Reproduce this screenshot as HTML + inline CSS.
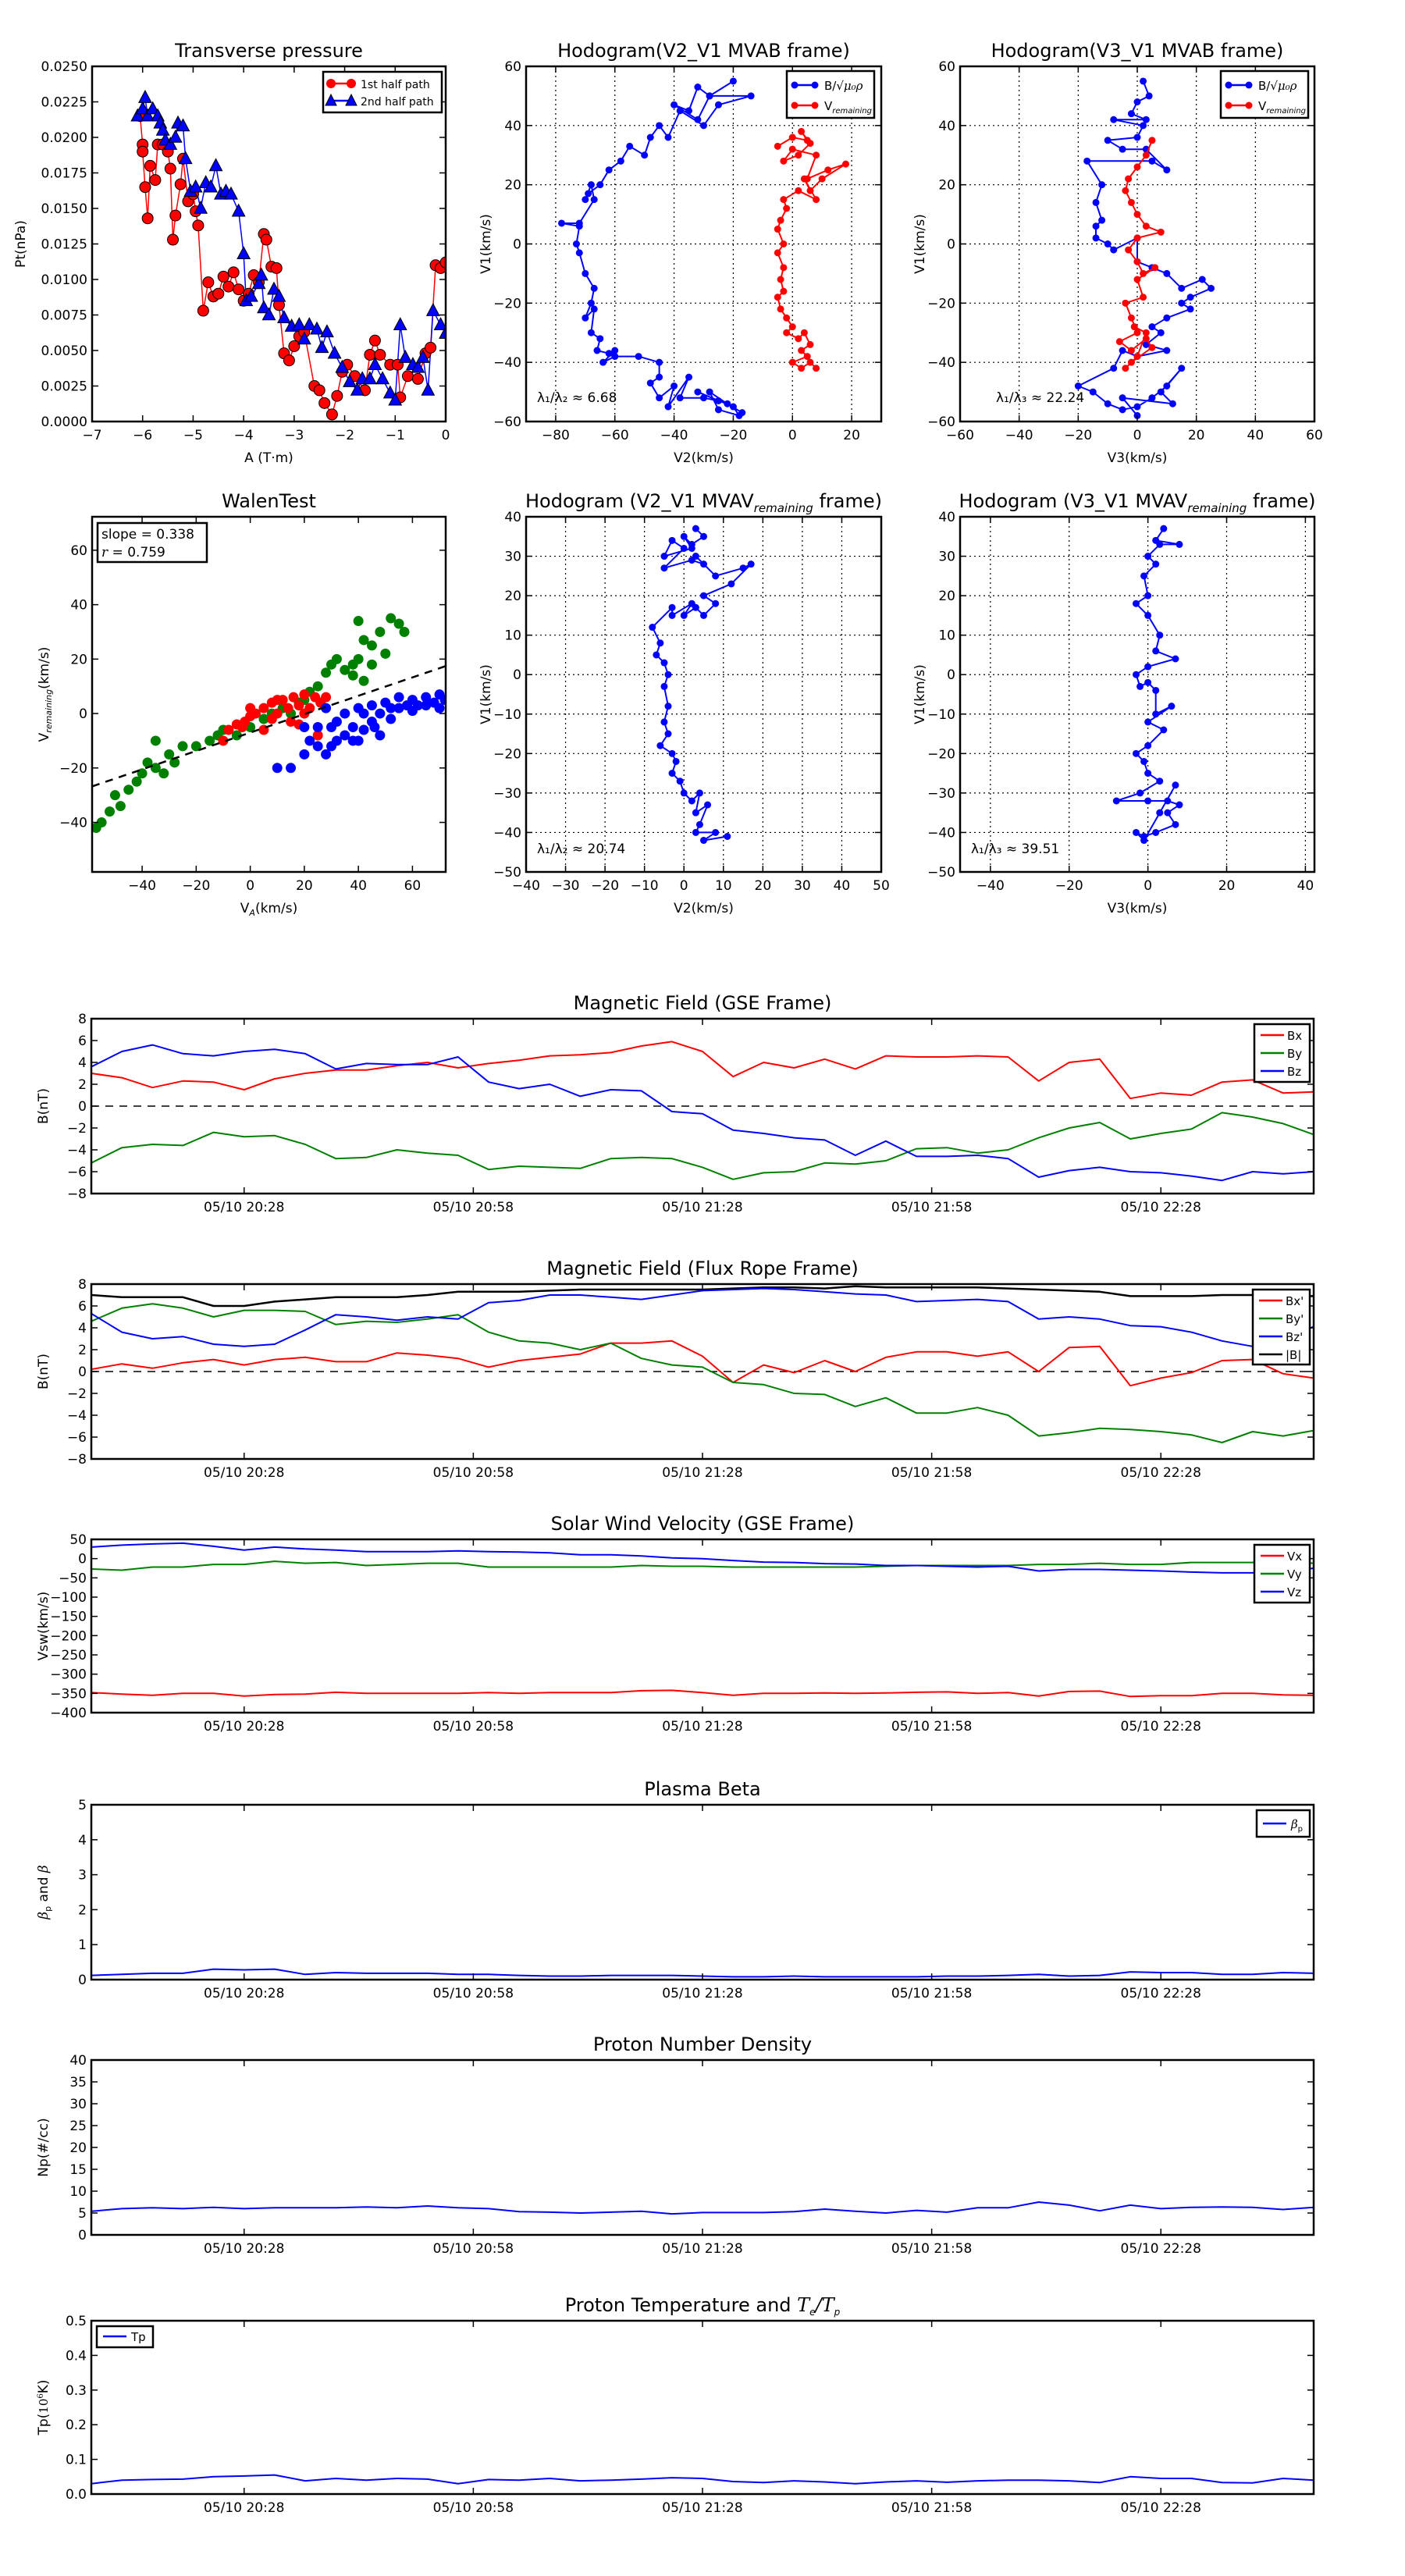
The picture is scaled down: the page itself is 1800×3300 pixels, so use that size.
<!DOCTYPE html>
<html><head><meta charset="utf-8"><style>
html,body{margin:0;padding:0;background:#fff}
svg{display:block;font-family:"DejaVu Sans","Liberation Sans",sans-serif}
</style></head><body>
<svg id="fig" xmlns="http://www.w3.org/2000/svg" width="1800" height="3300" viewBox="0 0 1800 3300"></svg>
<script>
// ---------- DATA ----------
const ptA1=[-6.05,-6.0,-6.0,-5.95,-5.9,-5.85,-5.75,-5.7,-5.6,-5.5,-5.45,-5.4,-5.35,-5.25,-5.2,-5.1,-5.0,-4.95,-4.9,-4.8,-4.7,-4.6,-4.5,-4.4,-4.3,-4.2,-4.1,-4.0,-3.9,-3.8,-3.7,-3.6,-3.55,-3.45,-3.35,-3.3,-3.2,-3.1,-3.0,-2.9,-2.8,-2.6,-2.5,-2.4,-2.25,-2.15,-2.05,-1.95,-1.8,-1.6,-1.5,-1.4,-1.3,-1.1,-0.95,-0.9,-0.75,-0.55,-0.4,-0.3,-0.2,-0.1,0];
const ptP1=[0.0215,0.0195,0.019,0.0165,0.0143,0.018,0.017,0.0195,0.0195,0.019,0.0178,0.0128,0.0145,0.0167,0.0185,0.0155,0.016,0.0148,0.0138,0.0078,0.0098,0.0088,0.009,0.0102,0.0095,0.0105,0.0093,0.0085,0.009,0.0103,0.0098,0.0132,0.0128,0.0109,0.0108,0.0082,0.0048,0.0043,0.0053,0.006,0.0063,0.0025,0.0022,0.0013,0.0005,0.0018,0.0035,0.004,0.0032,0.0022,0.0047,0.0057,0.0047,0.004,0.004,0.0017,0.0032,0.003,0.0048,0.0052,0.011,0.0108,0.0112];
const ptA2=[-6.1,-6.0,-5.95,-5.9,-5.8,-5.7,-5.65,-5.6,-5.55,-5.45,-5.35,-5.3,-5.2,-5.15,-5.05,-4.95,-4.85,-4.75,-4.65,-4.55,-4.45,-4.35,-4.25,-4.1,-4.0,-3.95,-3.85,-3.7,-3.65,-3.6,-3.5,-3.4,-3.3,-3.2,-3.05,-2.9,-2.8,-2.7,-2.55,-2.45,-2.35,-2.2,-2.05,-1.9,-1.75,-1.65,-1.5,-1.4,-1.25,-1.1,-1.0,-0.9,-0.8,-0.65,-0.55,-0.45,-0.35,-0.25,-0.1,0];
const ptP2=[0.0215,0.022,0.0228,0.0215,0.022,0.0215,0.021,0.0205,0.0198,0.0195,0.02,0.021,0.0208,0.0185,0.0162,0.0165,0.015,0.0168,0.0165,0.018,0.016,0.0162,0.016,0.0148,0.0118,0.0085,0.0088,0.0097,0.0103,0.008,0.0075,0.0093,0.0088,0.0073,0.0067,0.0068,0.0058,0.0068,0.0065,0.0052,0.0063,0.0048,0.0038,0.0028,0.0022,0.003,0.003,0.004,0.003,0.002,0.0015,0.0068,0.0045,0.004,0.0038,0.0045,0.0022,0.0078,0.0068,0.0062];

const h1BV2=[-20,-28,-32,-35,-40,-32,-28,-14,-25,-30,-38,-42,-45,-48,-50,-55,-58,-62,-65,-69,-70,-68,-67,-72,-78,-72,-73,-72,-70,-67,-68,-70,-67,-68,-65,-66,-62,-60,-64,-60,-52,-45,-45,-48,-45,-40,-42,-35,-38,-30,-25,-32,-20,-18,-25,-28,-22,-17];
const h1BV1=[55,50,53,45,47,42,50,50,47,40,45,36,40,36,30,33,28,25,20,17,15,20,15,7,7,6,0,-3,-10,-15,-20,-25,-22,-30,-32,-36,-37,-36,-40,-38,-38,-40,-45,-47,-52,-48,-55,-45,-52,-52,-53,-50,-55,-58,-56,-50,-54,-57];
const h1VV2=[-5,0,5,3,6,2,-3,0,8,5,12,18,10,6,4,8,2,-3,-2,-4,-5,-3,-5,-3,-4,-3,-5,-4,-2,0,-2,2,4,6,3,5,0,3,6,8];
const h1VV1=[33,36,35,38,34,30,28,32,30,22,25,27,22,18,22,15,18,15,12,8,5,0,-3,-8,-12,-16,-18,-22,-25,-28,-30,-32,-30,-34,-36,-38,-40,-42,-40,-42];
const h2BV3=[2,4,0,-2,3,-8,2,0,-10,-5,3,10,5,-17,-12,-14,-12,-14,-14,-10,-8,0,0,5,10,15,22,25,18,15,18,10,5,8,3,10,0,-5,-8,-20,-15,-10,-5,0,5,10,15,8,12,-5,0];
const h2BV1=[55,50,48,44,42,42,40,36,35,32,32,25,28,28,20,14,8,6,2,0,-2,2,-6,-8,-10,-15,-12,-15,-18,-20,-22,-25,-28,-30,-34,-36,-38,-36,-42,-48,-50,-54,-56,-55,-52,-48,-42,-50,-54,-52,-58];
const h2VV3=[5,3,0,-3,-4,-2,0,3,8,0,-3,0,2,6,0,2,-4,-2,0,-6,-2,3,5,-2,-4,0,3,-1];
const h2VV1=[35,30,26,22,18,14,10,6,4,2,-2,-6,-10,-8,-12,-18,-20,-25,-30,-33,-36,-32,-35,-40,-42,-38,-30,-28];

const walenGX=[-57,-55,-52,-50,-48,-45,-42,-40,-38,-35,-35,-32,-30,-28,-25,-20,-15,-12,-10,-5,0,5,8,12,15,18,20,22,25,28,30,32,35,38,40,42,40,42,45,48,50,52,55,57,45,38];
const walenGY=[-42,-40,-36,-30,-34,-28,-25,-22,-18,-20,-10,-22,-15,-18,-12,-12,-10,-8,-6,-8,-5,-2,0,2,0,4,5,8,10,15,18,20,16,14,20,12,34,27,25,30,22,35,33,30,18,18];
const walenRX=[-10,-8,-5,-2,0,2,5,8,10,12,14,16,18,20,22,24,26,28,25,15,5,0,10,20,-3,8,18];
const walenRY=[-10,-6,-4,-3,-1,0,2,4,0,5,2,6,3,7,2,6,4,6,-8,-3,-6,2,5,0,-5,-2,-4];
const walenBX=[10,15,20,22,25,28,30,30,32,35,35,38,40,40,42,45,45,48,50,52,55,58,60,62,65,68,70,72,28,32,48,55,60,65,70,20,25,38,42,46,52];
const walenBY=[-20,-20,-15,-10,-5,-15,-12,-5,-3,-8,0,-5,2,-10,-6,-3,3,0,4,2,6,3,5,3,6,4,7,5,2,-10,-8,2,1,3,2,-5,-12,-10,0,-5,-2];
const walenSlope=0.338, walenIntercept=-7.0;

const h3V2=[3,5,2,0,2,-5,-3,0,-5,2,5,3,8,15,17,12,5,8,5,3,0,2,-3,-3,-8,-6,-7,-5,-4,-5,-4,-5,-4,-6,-3,-2,-3,-1,0,2,4,3,6,4,3,8,5,11];
const h3V1=[37,35,33,35,32,30,34,32,27,29,28,30,25,27,28,23,20,18,15,17,15,18,15,17,12,8,5,3,0,-3,-8,-12,-15,-18,-20,-22,-25,-27,-30,-32,-30,-35,-33,-38,-40,-40,-42,-41];
const h4V3=[4,2,8,3,0,2,-1,0,-3,0,3,2,7,0,-3,-2,0,2,2,6,0,4,0,-3,-1,0,3,-2,-8,0,5,8,5,7,2,-1,-3,-1,3,7];
const h4V1=[37,34,33,33,30,28,25,20,18,15,10,6,4,2,0,-3,-2,-4,-10,-8,-12,-14,-18,-20,-22,-25,-27,-30,-32,-32,-32,-33,-35,-38,-40,-41,-40,-42,-35,-28];

// time series: samples every 4 minutes starting 20:08 (41 samples)
const tsStep=4;
const timeTicks=[20,50,80,110,140];
const timeTickLabels=["05/10 20:28","05/10 20:58","05/10 21:28","05/10 21:58","05/10 22:28"];
const gseBx=[3.0,2.6,1.7,2.3,2.2,1.5,2.5,3.0,3.3,3.3,3.7,4.0,3.5,3.9,4.2,4.6,4.7,4.9,5.5,5.9,5.0,2.7,4.0,3.5,4.3,3.4,4.6,4.5,4.5,4.6,4.5,2.3,4.0,4.3,0.7,1.2,1.0,2.2,2.4,1.2,1.3];
const gseBy=[-5.2,-3.8,-3.5,-3.6,-2.4,-2.8,-2.7,-3.5,-4.8,-4.7,-4.0,-4.3,-4.5,-5.8,-5.5,-5.6,-5.7,-4.8,-4.7,-4.8,-5.6,-6.7,-6.1,-6.0,-5.2,-5.3,-5.0,-3.9,-3.8,-4.3,-4.0,-2.9,-2.0,-1.5,-3.0,-2.5,-2.1,-0.6,-1.0,-1.6,-2.6];
const gseBz=[3.6,5.0,5.6,4.8,4.6,5.0,5.2,4.8,3.4,3.9,3.8,3.8,4.5,2.2,1.6,2.0,0.9,1.5,1.4,-0.5,-0.7,-2.2,-2.5,-2.9,-3.1,-4.5,-3.2,-4.6,-4.6,-4.5,-4.8,-6.5,-5.9,-5.6,-6.0,-6.1,-6.4,-6.8,-6.0,-6.2,-6.0];
const frBx=[0.2,0.7,0.3,0.8,1.1,0.6,1.1,1.3,0.9,0.9,1.7,1.5,1.2,0.4,1.0,1.3,1.6,2.6,2.6,2.8,1.4,-1.0,0.6,-0.1,1.0,0.0,1.3,1.8,1.8,1.4,1.8,0.0,2.2,2.3,-1.3,-0.6,-0.1,1.0,1.1,-0.2,-0.6];
const frBy=[4.6,5.8,6.2,5.8,5.0,5.6,5.6,5.5,4.3,4.6,4.5,4.8,5.2,3.6,2.8,2.6,2.0,2.6,1.2,0.6,0.4,-1.0,-1.2,-2.0,-2.1,-3.2,-2.4,-3.8,-3.8,-3.3,-4.0,-5.9,-5.6,-5.2,-5.3,-5.5,-5.8,-6.5,-5.5,-5.9,-5.4];
const frBz=[5.3,3.6,3.0,3.2,2.5,2.3,2.5,3.8,5.2,5.0,4.7,5.0,4.8,6.3,6.5,7.0,7.0,6.8,6.6,7.0,7.4,7.5,7.6,7.5,7.3,7.1,7.0,6.4,6.5,6.6,6.4,4.8,5.0,4.8,4.2,4.1,3.6,2.8,2.3,3.0,4.1];
const frBt=[7.0,6.8,6.8,6.8,6.0,6.0,6.4,6.6,6.8,6.8,6.8,7.0,7.3,7.3,7.3,7.4,7.5,7.5,7.5,7.5,7.5,7.6,7.7,7.7,7.6,7.8,7.7,7.7,7.7,7.7,7.6,7.5,7.4,7.3,6.9,6.9,6.9,7.0,7.0,6.9,6.9];
const swVx=[-348,-352,-355,-350,-350,-357,-353,-352,-347,-350,-350,-350,-350,-348,-350,-348,-348,-348,-343,-342,-348,-355,-350,-350,-349,-350,-349,-347,-346,-350,-348,-357,-345,-344,-358,-356,-356,-350,-350,-354,-355];
const swVy=[-27,-30,-22,-22,-15,-15,-7,-12,-10,-18,-15,-12,-12,-22,-22,-22,-22,-22,-18,-20,-20,-22,-22,-22,-22,-22,-20,-18,-18,-18,-18,-15,-15,-12,-15,-15,-10,-10,-10,-8,-12];
const swVz=[30,35,38,40,32,22,30,25,22,18,18,18,20,18,17,15,10,10,7,2,0,-5,-9,-10,-13,-14,-18,-18,-20,-22,-20,-32,-28,-28,-30,-32,-35,-37,-37,-35,-25];
const betaP=[0.12,0.15,0.18,0.18,0.3,0.28,0.3,0.15,0.2,0.18,0.18,0.18,0.15,0.15,0.12,0.1,0.1,0.12,0.12,0.12,0.1,0.08,0.08,0.1,0.08,0.08,0.08,0.08,0.1,0.1,0.12,0.15,0.1,0.12,0.22,0.2,0.2,0.15,0.15,0.2,0.18];
const densNp=[5.4,6.0,6.2,6.0,6.3,6.0,6.2,6.2,6.2,6.4,6.2,6.6,6.2,6.0,5.3,5.2,5.0,5.2,5.4,4.8,5.1,5.1,5.1,5.3,5.9,5.4,5.0,5.6,5.2,6.2,6.2,7.5,6.8,5.5,6.8,6.0,6.3,6.4,6.3,5.8,6.3];
const tempTp=[0.03,0.04,0.042,0.043,0.05,0.052,0.055,0.038,0.045,0.04,0.045,0.043,0.03,0.042,0.04,0.045,0.038,0.04,0.043,0.047,0.045,0.036,0.033,0.038,0.035,0.03,0.035,0.038,0.034,0.038,0.04,0.04,0.038,0.033,0.05,0.045,0.045,0.033,0.032,0.045,0.04];

// ---------- DRAWING ----------
const NS="http://www.w3.org/2000/svg";
const fig=document.getElementById('fig');
function mk(tag,attrs,parent){const e=document.createElementNS(NS,tag);for(const k in attrs)e.setAttribute(k,attrs[k]);(parent||fig).appendChild(e);return e;}
function txt(s,x,y,size,anchor,parent,extra){const t=mk('text',Object.assign({x:x,y:y,'font-size':size,'text-anchor':anchor||'middle',fill:'#000'},extra||{}),parent);t.textContent=s;return t;}

function makeAxes(c){
  const g=mk('g',{});
  
  
  const sx=v=>c.x+(v-c.xmin)/(c.xmax-c.xmin)*c.w;
  const sy=v=>c.y+c.h-(v-c.ymin)/(c.ymax-c.ymin)*c.h;
  mk('rect',{x:c.x,y:c.y,width:c.w,height:c.h,fill:'#fff'},g);
  const clipId='clip-'+c.name;
  const cp=mk('clipPath',{id:clipId},g);mk('rect',{x:c.x,y:c.y,width:c.w,height:c.h},cp);
  const grid=mk('g',{},g);
  const marks=mk('g',{'clip-path':'url(#'+clipId+')'},g);
  const frame=mk('g',{},g);
  c.xticks.forEach((v,i)=>{const X=sx(v);
    if(c.grid)mk('line',{x1:X,y1:c.y,x2:X,y2:c.y+c.h,stroke:'#000','stroke-width':1.2,'stroke-dasharray':'2,4'},grid);
    mk('line',{x1:X,y1:c.y+c.h,x2:X,y2:c.y+c.h-8,stroke:'#000','stroke-width':1.5},frame);
    mk('line',{x1:X,y1:c.y,x2:X,y2:c.y+8,stroke:'#000','stroke-width':1.5},frame);
    const t=txt(c.xlabels?c.xlabels[i]:fmt(v),X,c.y+c.h+23,17,'middle',frame);
    
    });
  c.yticks.forEach((v,i)=>{const Y=sy(v);
    if(c.grid)mk('line',{x1:c.x,y1:Y,x2:c.x+c.w,y2:Y,stroke:'#000','stroke-width':1.2,'stroke-dasharray':'2,4'},grid);
    mk('line',{x1:c.x,y1:Y,x2:c.x+8,y2:Y,stroke:'#000','stroke-width':1.5},frame);
    mk('line',{x1:c.x+c.w,y1:Y,x2:c.x+c.w-8,y2:Y,stroke:'#000','stroke-width':1.5},frame);
    const t=txt(c.ylabels?c.ylabels[i]:fmt(v),c.x-6,Y+6,17,'end',frame);
    
    });
  mk('rect',{x:c.x,y:c.y,width:c.w,height:c.h,fill:'none',stroke:'#000','stroke-width':2.5},frame);
  if(c.title){const t=txt('',c.x+c.w/2,c.y-12,24,'middle',frame);t.innerHTML=c.title;}
  if(c.xlabel){const t=txt('',c.x+c.w/2,c.y+c.h+c.xlabOff,17,'middle',frame);t.innerHTML=c.xlabel;}
  if(c.ylabel){const t=txt('',0,0,17,'middle',frame,{transform:'translate('+(c.x-c.ylabOff)+','+(c.y+c.h/2)+') rotate(-90)'});t.innerHTML=c.ylabel;}
  return {g:g,marks:marks,frame:frame,sx:sx,sy:sy,c:c};
}
function fmt(v){return (v<0?'\u2212':'')+Math.abs(v);}
function line(ax,xs,ys,color,w,name,dash){
  const p=xs.map((x,i)=>ax.sx(x).toFixed(1)+','+ax.sy(ys[i]).toFixed(1)).join(' ');
  const l=mk('polyline',{points:p,fill:'none',stroke:color,'stroke-width':w,'stroke-linejoin':'round'},ax.marks);
  if(dash)l.setAttribute('stroke-dasharray',dash);
  
  
  return l;
}
function dots(ax,xs,ys,color,r,name,stroke){
  const g=mk('g',{},ax.marks);
  
  
  xs.forEach((x,i)=>{mk('circle',{cx:ax.sx(x),cy:ax.sy(ys[i]),r:r,fill:color,stroke:stroke||'none','stroke-width':1},g);});
}
function tris(ax,xs,ys,color,s,name){
  const g=mk('g',{},ax.marks);
  
  
  xs.forEach((x,i)=>{const X=ax.sx(x),Y=ax.sy(ys[i]);
    mk('polygon',{points:(X)+','+(Y-s)+' '+(X-s*0.9)+','+(Y+s*0.7)+' '+(X+s*0.9)+','+(Y+s*0.7),fill:color,stroke:'#000','stroke-width':1},g);});
}
function legend(ax,x,y,w,h,items,name){
  const g=mk('g',{},ax.frame);
  
  
  mk('rect',{x:x,y:y,width:w,height:h,fill:'#fff',stroke:'#000','stroke-width':2.5},g);
  items.forEach((it,i)=>{const yy=y+it.dy;
    mk('line',{x1:x+8,y1:yy,x2:x+38,y2:yy,stroke:it.color,'stroke-width':it.lw||2.5},g);
    if(it.marker==='o'){mk('circle',{cx:x+10,cy:yy,r:it.r||6,fill:it.color,stroke:it.ms||'none'},g);mk('circle',{cx:x+36,cy:yy,r:it.r||6,fill:it.color,stroke:it.ms||'none'},g);}
    if(it.marker==='^'){[x+10,x+36].forEach(X=>mk('polygon',{points:X+','+(yy-8)+' '+(X-7)+','+(yy+6)+' '+(X+7)+','+(yy+6),fill:it.color,stroke:'#000'},g));}
    const t=txt('',x+(it.tx||48),yy+6,it.fs||17,'start',g);t.innerHTML=it.label;
    
    });
}
function range(a,b,s){const r=[];for(let v=a;v<=b+1e-9;v+=s)r.push(Math.round(v*1e6)/1e6);return r;}

const R1Y=85,R1H=455,R2Y=662,R2H=455,XL=52;
// ---------- Row 1 ----------
let ax=makeAxes({name:'transverse-pressure',x:118,y:R1Y,w:453,h:R1H,xmin:-7,xmax:0,ymin:0,ymax:0.025,
  xticks:range(-7,0,1),yticks:range(0,0.025,0.0025),ylabels:range(0,0.025,0.0025).map(v=>v.toFixed(4)),
  title:'Transverse pressure',xlabel:'A (T\u00b7m)',xlabOff:XL,ylabel:'Pt(nPa)',ylabOff:86});
line(ax,ptA1,ptP1,'#f00',1.5,'first-half-line');
line(ax,ptA2,ptP2,'#00f',1.5,'second-half-line');
dots(ax,ptA1,ptP1,'#f00',7,'first-half-markers','#000');
tris(ax,ptA2,ptP2,'#00f',9,'second-half-markers');
legend(ax,414,92,152,52,[{dy:15,color:'#f00',marker:'o',label:'1st half path',fs:14},{dy:37,color:'#00f',marker:'^',label:'2nd half path',fs:14}],'pt-legend');

ax=makeAxes({name:'hodogram-v2-v1-mvab',x:674,y:R1Y,w:455,h:R1H,xmin:-90,xmax:30,ymin:-60,ymax:60,grid:true,
  xticks:range(-80,20,20),yticks:range(-60,60,20),title:'Hodogram(V2_V1 MVAB frame)',xlabel:'V2(km/s)',xlabOff:XL,ylabel:'V1(km/s)',ylabOff:46});
line(ax,h1BV2,h1BV1,'#00f',2,'b-path');dots(ax,h1BV2,h1BV1,'#00f',4.5,'b-points');
line(ax,h1VV2,h1VV1,'#f00',2,'v-path');dots(ax,h1VV2,h1VV1,'#f00',4.5,'v-points');
legend(ax,1008,91,112,60,[{dy:18,color:'#00f',marker:'o',r:4.5,label:'B/<tspan font-family="DejaVu Serif" font-style="italic">\u221a\u03bc\u2080\u03c1</tspan>',fs:15},{dy:44,color:'#f00',marker:'o',r:4.5,label:'V<tspan font-size="10" font-style="italic" dy="4">remaining</tspan>',fs:15}],'hodogram1-legend');
txt('\u03bb\u2081/\u03bb\u2082 \u2248 6.68',688,515,17,'start',ax.frame);

ax=makeAxes({name:'hodogram-v3-v1-mvab',x:1230,y:R1Y,w:454,h:R1H,xmin:-60,xmax:60,ymin:-60,ymax:60,grid:true,
  xticks:range(-60,60,20),yticks:range(-60,60,20),title:'Hodogram(V3_V1 MVAB frame)',xlabel:'V3(km/s)',xlabOff:XL,ylabel:'V1(km/s)',ylabOff:46});
line(ax,h2BV3,h2BV1,'#00f',2,'b-path');dots(ax,h2BV3,h2BV1,'#00f',4.5,'b-points');
line(ax,h2VV3,h2VV1,'#f00',2,'v-path');dots(ax,h2VV3,h2VV1,'#f00',4.5,'v-points');
legend(ax,1564,91,112,60,[{dy:18,color:'#00f',marker:'o',r:4.5,label:'B/<tspan font-family="DejaVu Serif" font-style="italic">\u221a\u03bc\u2080\u03c1</tspan>',fs:15},{dy:44,color:'#f00',marker:'o',r:4.5,label:'V<tspan font-size="10" font-style="italic" dy="4">remaining</tspan>',fs:15}],'hodogram2-legend');
txt('\u03bb\u2081/\u03bb\u2083 \u2248 22.24',1276,515,17,'start',ax.frame);

// ---------- Row 2 ----------
ax=makeAxes({name:'walen-test',x:118,y:R2Y,w:453,h:R2H,xmin:-58.5,xmax:72.3,ymin:-58.2,ymax:72.3,
  xticks:range(-40,60,20),yticks:range(-40,60,20),title:'WalenTest',xlabel:'V<tspan font-size="11" font-style="italic" dy="4">A</tspan><tspan dy="-4">(km/s)</tspan>',xlabOff:XL,ylabel:'V<tspan font-size="11" font-style="italic" dy="4">remaining</tspan><tspan dy="-4">(km/s)</tspan>',ylabOff:56});
dots(ax,walenGX,walenGY,'#008000',6.5,'walen-green-points');
dots(ax,walenRX,walenRY,'#f00',6.5,'walen-red-points');
dots(ax,walenBX,walenBY,'#00f',6.5,'walen-blue-points');
line(ax,[-58.5,72.3],[walenSlope*-58.5+walenIntercept,walenSlope*72.3+walenIntercept],'#000',2.5,'walen-fit-line','10,8');
(function(){const g=mk('g',{},ax.frame);
mk('rect',{x:125,y:670,width:140,height:50,fill:'#fff',stroke:'#000','stroke-width':2.5},g);
txt('slope = 0.338',130,690,17,'start',g);const t=txt('',130,713,17,'start',g);t.innerHTML='<tspan font-style="italic" font-family="DejaVu Serif">r</tspan> = 0.759';})();

ax=makeAxes({name:'hodogram-v2-v1-mvav',x:674,y:R2Y,w:455,h:R2H,xmin:-40,xmax:50,ymin:-50,ymax:40,grid:true,
  xticks:range(-40,50,10),yticks:range(-50,40,10),title:'Hodogram (V2_V1 MVAV<tspan font-size="15" font-style="italic" dy="6">remaining</tspan><tspan dy="-6"> frame)</tspan>',xlabel:'V2(km/s)',xlabOff:XL,ylabel:'V1(km/s)',ylabOff:46});
line(ax,h3V2,h3V1,'#00f',2,'b-path');dots(ax,h3V2,h3V1,'#00f',4.5,'b-points');
txt('\u03bb\u2081/\u03bb\u2082 \u2248 20.74',688,1093,17,'start',ax.frame);

ax=makeAxes({name:'hodogram-v3-v1-mvav',x:1230,y:R2Y,w:454,h:R2H,xmin:-47.7,xmax:42.3,ymin:-50,ymax:40,grid:true,
  xticks:range(-40,40,20),yticks:range(-50,40,10),title:'Hodogram (V3_V1 MVAV<tspan font-size="15" font-style="italic" dy="6">remaining</tspan><tspan dy="-6"> frame)</tspan>',xlabel:'V3(km/s)',xlabOff:XL,ylabel:'V1(km/s)',ylabOff:46});
line(ax,h4V3,h4V1,'#00f',2,'b-path');dots(ax,h4V3,h4V1,'#00f',4.5,'b-points');
txt('\u03bb\u2081/\u03bb\u2083 \u2248 39.51',1244,1093,17,'start',ax.frame);

// ---------- Time series ----------
const T=gseBx.map((_,i)=>i*tsStep);
function tsAxes(name,top,h,ymin,ymax,yt,title,ylabel,ylabels){
  return makeAxes({name:name,x:117,y:top,w:1566,h:h,xmin:0,xmax:160,ymin:ymin,ymax:ymax,
    xticks:timeTicks,xlabels:timeTickLabels,yticks:yt,ylabels:ylabels,title:title,ylabel:ylabel,ylabOff:56});
}
ax=tsAxes('magnetic-field-gse',1305,224,-8,8,range(-8,8,2),'Magnetic Field (GSE Frame)','B(nT)');
line(ax,[0,160],[0,0],'#000',1.5,'zero-line','10,8');
line(ax,T,gseBx,'#f00',2,'bx-line');line(ax,T,gseBy,'#008000',2,'by-line');line(ax,T,gseBz,'#00f',2,'bz-line');
legend(ax,1607,1312,71,74,[{dy:14,color:'#f00',label:'Bx',tx:42,fs:15},{dy:37,color:'#008000',label:'By',tx:42,fs:15},{dy:60,color:'#00f',label:'Bz',tx:42,fs:15}],'gse-legend');

ax=tsAxes('magnetic-field-flux-rope',1645,224,-8,8,range(-8,8,2),'Magnetic Field (Flux Rope Frame)','B(nT)');
line(ax,[0,160],[0,0],'#000',1.5,'zero-line','10,8');
line(ax,T,frBt,'#000',2.5,'bt-line');line(ax,T,frBx,'#f00',2,'bx-prime-line');line(ax,T,frBy,'#008000',2,'by-prime-line');line(ax,T,frBz,'#00f',2,'bz-prime-line');
legend(ax,1605,1652,73,96,[{dy:14,color:'#f00',label:"Bx'",tx:42,fs:15},{dy:37,color:'#008000',label:"By'",tx:42,fs:15},{dy:60,color:'#00f',label:"Bz'",tx:42,fs:15},{dy:83,color:'#000',label:'|B|',tx:42,fs:15}],'flux-rope-legend');

ax=tsAxes('solar-wind-velocity',1972,222,-400,50,range(-400,50,50),'Solar Wind Velocity (GSE Frame)','Vsw(km/s)');
line(ax,T,swVx,'#f00',2,'vx-line');line(ax,T,swVy,'#008000',2,'vy-line');line(ax,T,swVz,'#00f',2,'vz-line');
legend(ax,1607,1979,71,74,[{dy:14,color:'#f00',label:'Vx',tx:42,fs:15},{dy:37,color:'#008000',label:'Vy',tx:42,fs:15},{dy:60,color:'#00f',label:'Vz',tx:42,fs:15}],'velocity-legend');

ax=tsAxes('plasma-beta',2312,224,0,5,range(0,5,1),'Plasma Beta','<tspan font-style="italic" font-family="DejaVu Serif">\u03b2</tspan><tspan font-size="11" dy="4">p</tspan><tspan dy="-4"> and </tspan><tspan font-style="italic" font-family="DejaVu Serif">\u03b2</tspan>');
line(ax,T,betaP,'#00f',2,'beta-line');
legend(ax,1610,2319,68,34,[{dy:17,color:'#00f',label:'<tspan font-style="italic" font-family="DejaVu Serif">\u03b2</tspan><tspan font-size="10" dy="4">p</tspan>',tx:44,fs:15}],'beta-legend');

ax=tsAxes('proton-number-density',2639,224,0,40,range(0,40,5),'Proton Number Density','Np(#/cc)');
line(ax,T,densNp,'#00f',2,'density-line');

ax=tsAxes('proton-temperature',2973,222,0,0.5,range(0,0.5,0.1),'Proton Temperature and <tspan font-style="italic" font-family="DejaVu Serif">T</tspan><tspan font-size="12" font-style="italic" dy="5">e</tspan><tspan dy="-5" font-style="italic" font-family="DejaVu Serif">/T</tspan><tspan font-size="12" font-style="italic" dy="5">p</tspan>','Tp(<tspan font-family="DejaVu Serif" font-size="15">10<tspan font-size="10" dy="-6">6</tspan></tspan><tspan dy="6">K)</tspan>',range(0,0.5,0.1).map(v=>v.toFixed(1)));
line(ax,T,tempTp,'#00f',2,'tp-line');
legend(ax,124,2980,72,27,[{dy:13,color:'#00f',label:'Tp',tx:44,fs:15}],'tp-legend');
</script>
</body></html>
